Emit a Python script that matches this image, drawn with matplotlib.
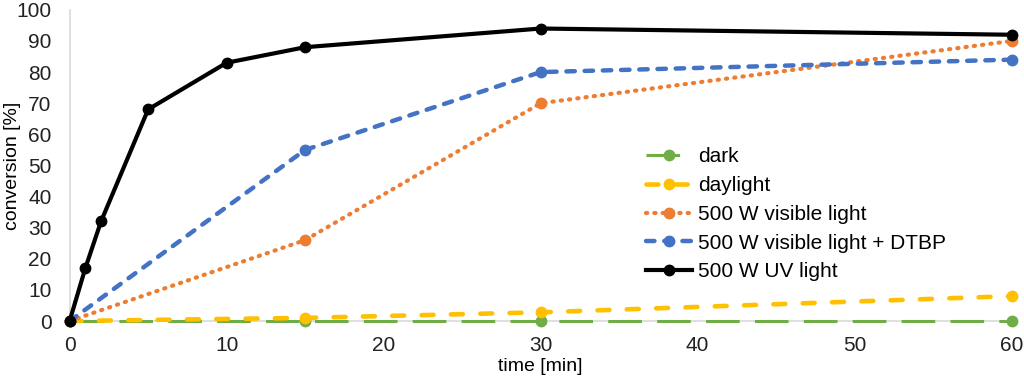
import matplotlib
matplotlib.use("Agg")
import matplotlib.pyplot as plt

plt.rcParams['font.family'] = ['Liberation Sans', 'DejaVu Sans']

t_short = [0, 15, 30, 60]
t_uv = [0, 1, 2, 5, 10, 15, 30, 60]
dark = [0, 0, 0, 0]
daylight = [0, 1, 2.8, 8]
visible = [0, 26, 70, 90]
visible_dtbp = [0, 55, 80, 84]
uv = [0, 17, 32, 68, 83, 88, 94, 92]
labels = ["dark", "daylight", "500 W visible light", "500 W visible light + DTBP", "500 W UV light"]
xticks = [0, 10, 20, 30, 40, 50, 60]
yticks = list(range(0, 101, 10))

fig = plt.figure(figsize=(10.24, 3.79), dpi=100)
ax = fig.add_axes([0.068, 0.153, 0.92, 0.821])

ms = 7.5
ax.plot(t_short, dark, color='#70AD47', lw=2.2, dashes=(11, 5), dash_capstyle='butt',
        marker='o', ms=ms, label=labels[0], zorder=3, clip_on=False)
ax.plot(t_short, daylight, color='#FFC000', lw=3.3, dashes=(2.6, 3.8), dash_capstyle='round',
        marker='o', ms=ms, label=labels[1], zorder=3, clip_on=False)
ax.plot(t_short, visible, color='#ED7D31', lw=3, dashes=(0.3, 1.7), dash_capstyle='round',
        marker='o', ms=ms, label=labels[2], zorder=4, clip_on=False)
ax.plot(t_short, visible_dtbp, color='#4472C4', lw=3.2, dashes=(1.9, 2.2), dash_capstyle='round',
        marker='o', ms=ms, label=labels[3], zorder=4, clip_on=False)
ax.plot(t_uv, uv, color='black', lw=3, marker='o', ms=ms, label=labels[4], zorder=5, clip_on=False)

ax.set_xlim(0, 60)
ax.set_ylim(0, 100)
ax.set_xticks(xticks)
ax.set_yticks(yticks)
ax.tick_params(length=0, labelsize=15, colors='#222222')
ax.tick_params(axis='x', pad=11)
ax.tick_params(axis='y', pad=13)
for s in ['top', 'right']:
    ax.spines[s].set_visible(False)
ax.spines['left'].set_color('#D9D9D9')
ax.spines['bottom'].set_color('#D9D9D9')
ax.spines['left'].set_linewidth(1.2)
ax.spines['bottom'].set_linewidth(1.2)
for sp in ax.spines.values():
    sp.set_clip_on(False)
    sp.set_zorder(1)

ax.set_xlabel('time [min]', fontsize=14, va='center')
ax.xaxis.set_label_coords(0.5, -0.145)
ax.set_ylabel('conversion [%]', fontsize=14, va='center')
ax.yaxis.set_label_coords(-0.0605, 0.5)

leg = ax.legend(loc='upper left', bbox_to_anchor=(0.603, 0.585), frameon=False, fontsize=15,
                handlelength=2.2, handletextpad=0.3, labelspacing=0.47, borderaxespad=0)

fig.savefig('out.png', dpi=100)
